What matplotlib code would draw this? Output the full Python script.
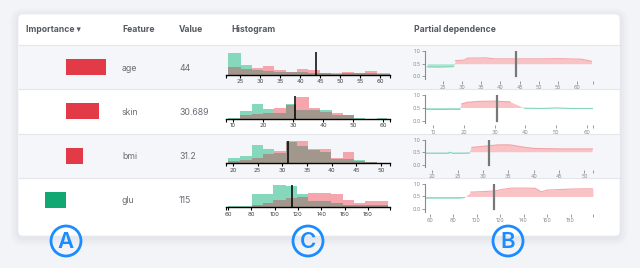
import numpy as np
import matplotlib
matplotlib.use("Agg")
import matplotlib.pyplot as plt
from matplotlib.patches import FancyBboxPatch, Circle, Rectangle

plt.rcParams['font.family'] = ['Inter', 'DejaVu Sans']

# ---------------- data ----------------
features = ["age", "skin", "bmi", "glu"]
feature_values = [44, 30.689, 31.2, 115]
importance = [0.080, 0.066, 0.033, -0.042]

# histograms: bin edges, class-0 (green) and class-1 (pink) heights
age_edges = [22, 25.2, 27.9, 30.7, 33.5, 36.5, 39.3, 42.1, 45, 47.7, 50.6, 53.5, 56.3, 59.2, 62.5]
age_green = [65, 27, 12, 10, 7, 8, 7, 5, 3, 2, 4, 5, 3, 2]
age_pink = [23, 17, 18, 24, 12, 7, 15, 12, 4, 4, 7, 4, 10, 3]

skin_edges = [8.4, 12.3, 16.2, 20.1, 23.7, 27.7, 31.1, 35.3, 39, 42.9, 46.6, 50.3, 54, 57.9, 61.2]
skin_green = [2, 23, 45, 30, 18, 44, 25, 25, 25, 12, 10, 2, 0, 2]
skin_pink = [0, 10, 15, 18, 33, 42, 65, 33, 20, 17, 10, 0, 0, 0]

bmi_edges = [19.05, 21.4, 23.8, 26.0, 28.3, 30.75, 33.0, 35.3, 37.65, 39.8, 42.25, 44.5, 46.8, 49.2]
bmi_green = [16, 20, 53, 43, 30, 63, 50, 38, 33, 13, 13, 8, 3]
bmi_pink = [6, 8, 16, 28, 36, 66, 66, 43, 43, 16, 33, 6, 3]

glu_edges = [60.3, 70.3, 80.3, 89.8, 98.8, 109.7, 119.4, 128.8, 138.8, 148, 158.2, 167.9, 177.4, 187.4, 197.3]
glu_green = [3, 3, 40, 40, 66, 63, 40, 18, 18, 13, 6, 6, 6, 8]
glu_pink = [0, 0, 6, 13, 23, 28, 30, 43, 43, 38, 23, 13, 20, 20]

hist_ticks = [[25, 30, 35, 40, 45, 50, 55, 60],
              [10, 20, 30, 40, 50, 60],
              [20, 25, 30, 35, 40, 45, 50],
              [60, 80, 100, 120, 140, 160, 180]]
hist_xlim = [(21.5, 62.5), (7.67, 62.33), (18.58, 51.85), (58.3, 198.8)]

# partial dependence curves
age_pd_x = [21, 24, 26, 27.8, 28.3, 30.5, 31.5, 36, 38.6, 45, 50, 55, 61, 63.7]
age_pd_y = [0.38, 0.37, 0.38, 0.39, 0.62, 0.64, 0.72, 0.73, 0.69, 0.69, 0.69, 0.70, 0.68, 0.60]
skin_pd_x = [7.6, 12, 18.8, 19.3, 21, 25, 30, 35, 39.6, 45, 50, 55, 62]
skin_pd_y = [0.45, 0.44, 0.45, 0.66, 0.72, 0.76, 0.77, 0.74, 0.49, 0.48, 0.50, 0.48, 0.48]
bmi_pd_x = [18.6, 21, 23.2, 23.4, 24.0, 26, 27.3, 27.8, 30, 33, 35.3, 38, 40, 45, 51.6]
bmi_pd_y = [0.46, 0.46, 0.46, 0.50, 0.46, 0.46, 0.47, 0.69, 0.73, 0.79, 0.79, 0.70, 0.65, 0.63, 0.63]
glu_pd_x = [56, 70, 85, 89.4, 95, 105, 116, 122, 130, 140, 150, 155, 160, 170, 180, 190, 199]
glu_pd_y = [0.44, 0.44, 0.44, 0.46, 0.67, 0.69, 0.72, 0.78, 0.83, 0.83, 0.82, 0.68, 0.75, 0.77, 0.79, 0.80, 0.80]

pd_ticks = [[25, 30, 35, 40, 45, 50, 55, 60],
            [10, 20, 30, 40, 50, 60],
            [20, 25, 30, 35, 40, 45, 50],
            [60, 80, 100, 120, 140, 160, 180]]
pd_xlim = [(20.4, 64.1), (7.4, 61.9), (18.55, 51.7), (56.0, 199.1)]

headers = ["Importance \u25BE", "Feature", "Value", "Histogram", "Partial dependence"]
markers = ["A", "C", "B"]

# ---------------- layout ----------------
W, H = 640, 268
fig = plt.figure(figsize=(W / 100, H / 100), dpi=100)
fig.patch.set_facecolor("#f3f4f7")


def px_axes(x0, y0, x1, y1, z=2):
    ax = fig.add_axes([x0 / W, 1 - y1 / H, (x1 - x0) / W, (y1 - y0) / H])
    ax.set_zorder(z)
    ax.patch.set_alpha(0)
    return ax


bg = px_axes(0, 0, W, H, z=0)
bg.set_xlim(0, W)
bg.set_ylim(H, 0)
bg.axis("off")

# card shadow + card
for i, a in enumerate([0.015, 0.02, 0.025, 0.03]):
    pad = 8 - 2 * i
    bg.add_patch(FancyBboxPatch((18, 14 + 2), 602, 222, boxstyle=f"round,pad={pad},rounding_size={6 + pad}",
                                fc="#6a7390", ec="none", alpha=a, zorder=0))
bg.add_patch(FancyBboxPatch((18, 14), 602, 222, boxstyle="round,pad=0,rounding_size=5",
                            fc="white", ec="#e9ebf0", lw=0.6, zorder=1))

row_h = 44.25
row_top0 = 45
row_tops = [row_top0 + i * row_h for i in range(len(features))]

for i, t in enumerate(row_tops):
    if i % 2 == 0:
        bg.add_patch(Rectangle((18.5, t), 601, row_h, fc="#f5f6fa", ec="none", zorder=1.1))
    bg.plot([18.5, 619.5], [t, t], color="#e4e6ec", lw=0.8, zorder=1.2)

header_x = [26, 122, 179, 231, 414]
for hx, txt in zip(header_x, headers):
    bg.text(hx, 30, txt, fontsize=6.2, fontweight="bold", color="#555a60",
            va="center", ha="left", zorder=3)

for i, t in enumerate(row_tops):
    cy = t + row_h / 2 + 1
    bg.text(122, cy, features[i], fontsize=6.3, color="#6a6e75", va="center", ha="left", zorder=3)
    bg.text(179, cy, f"{feature_values[i]:g}", fontsize=6.3, color="#6a6e75", va="center", ha="left", zorder=3)

# circled markers
for (cx, letter) in zip([66, 308, 508], markers):
    bg.add_patch(Circle((cx, 241), 15, fc="none", ec="#1a8cff", lw=2.0, zorder=5))
    bg.text(cx, 242, letter, fontsize=16, fontweight="semibold", color="#1a8cff",
            ha="center", va="center", zorder=5)

# importance bars
axi = px_axes(26, row_top0, 106, row_top0 + row_h * 4, z=3)
ypos = np.arange(len(features))
cols = ["#e23a46" if v > 0 else "#12a873" for v in importance]
axi.barh(ypos, importance, height=0.36, color=cols)
axi.set_xlim(-0.08, 0.08)
axi.set_ylim(len(features) - 0.5, -0.5)
axi.axis("off")

# histograms
G, P, O = "#86d8bd", "#f5a6ac", "#a2978d"
hists = [(age_edges, age_green, age_pink), (skin_edges, skin_green, skin_pink),
         (bmi_edges, bmi_green, bmi_pink), (glu_edges, glu_green, glu_pink)]
for i, t in enumerate(row_tops):
    edges, g, p = hists[i]
    ax = px_axes(226, t + 7, 390, t + 29.5, z=3)
    g = np.array(g)
    p = np.array(p)
    ax.stairs(g, edges, fill=True, color=G, lw=0)
    ax.stairs(p, edges, fill=True, color=P, lw=0)
    ax.stairs(np.minimum(g, p), edges, fill=True, color=O, lw=0)
    ax.axvline(feature_values[i], color="black", lw=1.1)
    lo, hi = hist_xlim[i]
    ax.set_xlim(lo, hi)
    ax.set_ylim(0, 67)
    for s in ["top", "left", "right"]:
        ax.spines[s].set_visible(False)
    ax.spines["bottom"].set_linewidth(1.0)
    ax.set_yticks([])
    tk = hist_ticks[i]
    ax.set_xticks(tk + [lo, hi], [str(v) for v in tk] + ["", ""])
    ax.tick_params(axis="x", length=2.3, width=0.8, pad=1, labelsize=4.3, labelcolor="#444")

# partial dependence
PG, PGL = "#aee6d2", "#86d6b9"
PP, PPL = "#f9c3c6", "#f3a5ab"
pds = [(age_pd_x, age_pd_y), (skin_pd_x, skin_pd_y), (bmi_pd_x, bmi_pd_y), (glu_pd_x, glu_pd_y)]
for i, t in enumerate(row_tops):
    x, y = np.array(pds[i][0]), np.array(pds[i][1])
    ax = px_axes(425, t + 6, 593, t + 34, z=3)
    ax.fill_between(x, 0.5, y, where=y >= 0.5, interpolate=True, color=PP, lw=0)
    ax.fill_between(x, 0.5, y, where=y <= 0.5, interpolate=True, color=PG, lw=0)
    ax.plot(x, np.where(y >= 0.5, y, np.nan), color=PPL, lw=0.8)
    ax.plot(x, np.where(y <= 0.5, y, np.nan), color=PGL, lw=0.8)
    ax.axvline(feature_values[i], ymin=0.09, ymax=1.0, color="#777777", lw=1.6)
    lo, hi = pd_xlim[i]
    ax.set_xlim(lo, hi)
    ax.set_ylim(-0.1, 1.0)
    for s in ["top", "right"]:
        ax.spines[s].set_visible(False)
    ax.spines["left"].set_color("#8a8a8a")
    ax.spines["left"].set_linewidth(0.8)
    ax.spines["bottom"].set_color("none")
    ax.spines["bottom"].set_position(("outward", 1.5))
    ax.set_yticks([0, 0.5, 1.0], ["0.0", "0.5", "1.0"])
    tk = pd_ticks[i]
    ax.set_xticks(tk + [hi], [str(v) for v in tk] + [""])
    ax.tick_params(axis="y", length=2, width=0.6, color="#8a8a8a", pad=1, labelsize=3.8, labelcolor="#8a8a8a")
    ax.tick_params(axis="x", length=2.3, width=0.6, color="#8a8a8a", pad=0.8, labelsize=3.8, labelcolor="#8a8a8a")

fig.savefig("out.png", dpi=100, facecolor=fig.get_facecolor())
